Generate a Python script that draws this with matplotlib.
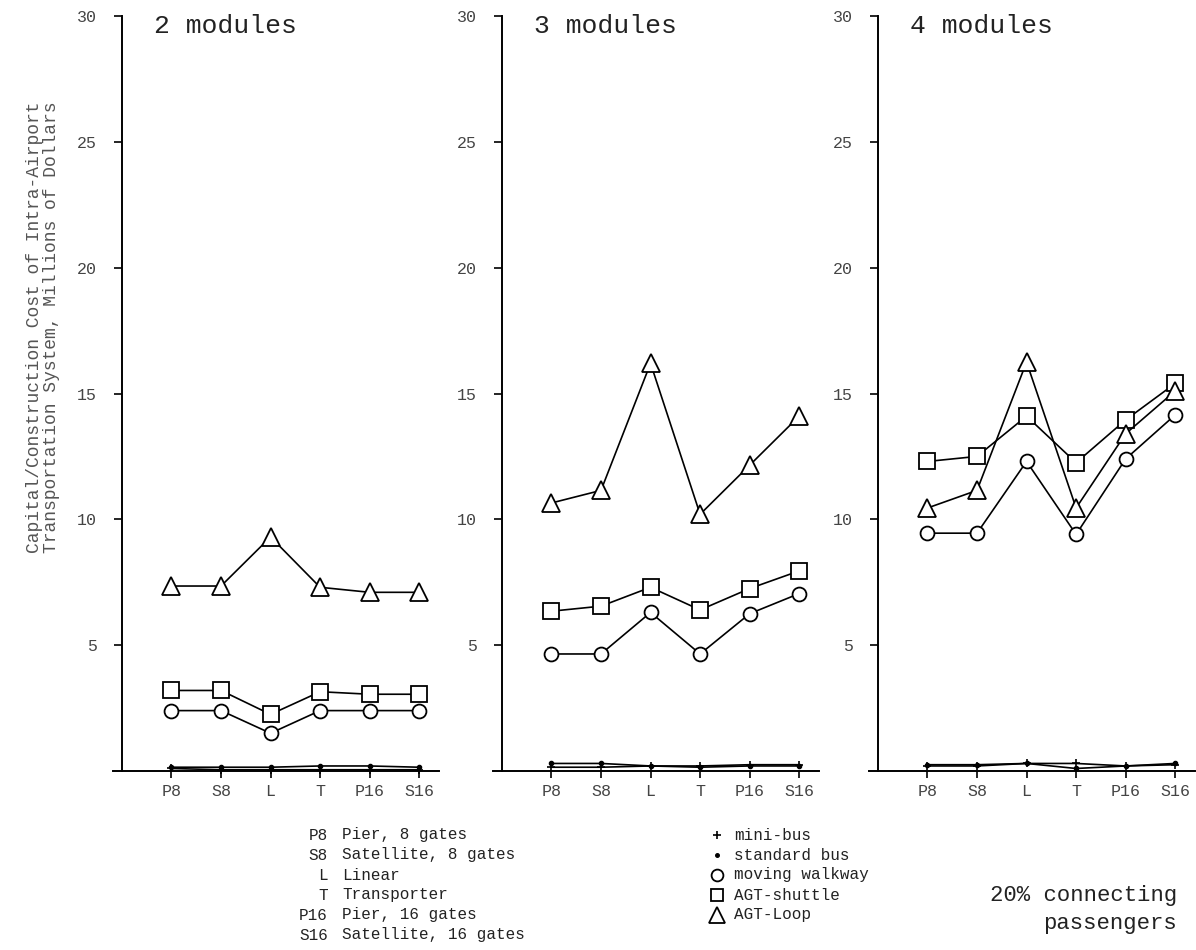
import numpy as np
import matplotlib.pyplot as plt

plt.rcParams['font.family'] = ['Liberation Mono', 'DejaVu Sans Mono']

cats = ['P8', 'S8', 'L', 'T', 'P16', 'S16']
titles = ['2 modules', '3 modules', '4 modules']

# 2 modules
loop2 = [7.35, 7.35, 9.3, 7.3, 7.1, 7.1]
shuttle2 = [3.2, 3.2, 2.25, 3.15, 3.05, 3.05]
walk2 = [2.4, 2.4, 1.5, 2.4, 2.4, 2.4]
stdbus2 = [0.15, 0.15, 0.15, 0.2, 0.2, 0.15]
minibus2 = [0.1, 0.05, 0.05, 0.05, 0.05, 0.05]

# 3 modules
loop3 = [10.65, 11.15, 16.2, 10.2, 12.15, 14.1]
shuttle3 = [6.35, 6.55, 7.3, 6.4, 7.25, 7.95]
walk3 = [4.65, 4.65, 6.3, 4.65, 6.25, 7.05]
stdbus3 = [0.3, 0.3, 0.2, 0.15, 0.2, 0.2]
minibus3 = [0.15, 0.15, 0.2, 0.2, 0.25, 0.25]

# 4 modules
loop4 = [10.45, 11.15, 16.25, 10.45, 13.4, 15.1]
shuttle4 = [12.3, 12.5, 14.1, 12.25, 13.95, 15.4]
walk4 = [9.45, 9.45, 12.3, 9.4, 12.4, 14.15]
stdbus4 = [0.25, 0.25, 0.3, 0.1, 0.2, 0.3]
minibus4 = [0.2, 0.2, 0.3, 0.3, 0.2, 0.25]

panels = [
    (minibus2, stdbus2, walk2, shuttle2, loop2),
    (minibus3, stdbus3, walk3, shuttle3, loop3),
    (minibus4, stdbus4, walk4, shuttle4, loop4),
]

code_desc = ['Pier, 8 gates', 'Satellite, 8 gates', 'Linear', 'Transporter',
             'Pier, 16 gates', 'Satellite, 16 gates']
modes = ['mini-bus', 'standard bus', 'moving walkway', 'AGT-shuttle', 'AGT-Loop']

styles = [
    dict(marker='+', ms=6, mew=1.2, mfc='k'),
    dict(marker='.', ms=6, mfc='k'),
    dict(marker='o', ms=10, mfc='white', mew=1.3),
    dict(marker='s', ms=11, mfc='white', mew=1.3),
    dict(marker='^', ms=13, mfc='white', mew=1.3),
]

W, H = 1196, 950
fig = plt.figure(figsize=(W / 100, H / 100), dpi=100)
x = np.arange(1, len(cats) + 1)
lefts = [113, 493, 869]
tick_col = '#444444'

for left, title, series in zip(lefts, titles, panels):
    ax = fig.add_axes([left / W, (H - 771) / H, 326 / W, (771 - 16) / H])
    for vals, st in zip(series, styles):
        ax.plot(x, vals, color='k', lw=1.2, mec='k', clip_on=False, **st)
    ax.set_xlim(-0.18, 6.4)
    ax.set_ylim(0, 30)
    ax.spines['top'].set_visible(False)
    ax.spines['right'].set_visible(False)
    ax.spines['left'].set_position(('data', 0))
    ax.spines['left'].set_linewidth(1.4)
    ax.spines['bottom'].set_linewidth(1.4)
    ax.set_xticks(x)
    ax.set_xticklabels(cats)
    ax.set_yticks([5, 10, 15, 20, 25, 30])
    ax.tick_params(axis='y', direction='out', length=6, width=1.2,
                   pad=12, labelsize=12, labelcolor=tick_col)
    ax.tick_params(axis='x', direction='out', length=5, width=1.2,
                   pad=4, labelsize=12, labelcolor=tick_col)
    ax.text(0.65, 29.6, title, fontsize=19, va='center', ha='left',
            color='#222222')

fig.text(43 / W, 1 - 327 / H,
         'Capital/Construction Cost of Intra-Airport\n'
         'Transportation System, Millions of Dollars',
         rotation=90, ha='center', va='center', fontsize=13,
         linespacing=0.95, color='#555555')

# legend block drawn in pixel coordinates
leg = fig.add_axes([0, 0, 1, 1])
leg.axis('off')
leg.set_xlim(0, W)
leg.set_ylim(H, 0)

rows = [835, 855, 875, 895, 915, 935]
for r, c, d in zip(rows, cats, code_desc):
    leg.text(328, r, c, ha='right', va='center', fontsize=11.5, color='#222222')
    leg.text(342, r, d, ha='left', va='center', fontsize=11.5, color='#222222')

for r, m, st in zip(rows, modes, styles):
    st2 = dict(st)
    st2['ms'] = st['ms'] * 0.85
    leg.plot([717], [r], color='k', mec='k', ls='none', **st2)
    leg.text(734, r, m, ha='left', va='center', fontsize=11.5, color='#222222')

leg.text(1177, 895, '20% connecting', ha='right', va='center', fontsize=16,
         color='#222222')
leg.text(1177, 923, 'passengers', ha='right', va='center', fontsize=16,
         color='#222222')

fig.savefig('out.png', dpi=100)
